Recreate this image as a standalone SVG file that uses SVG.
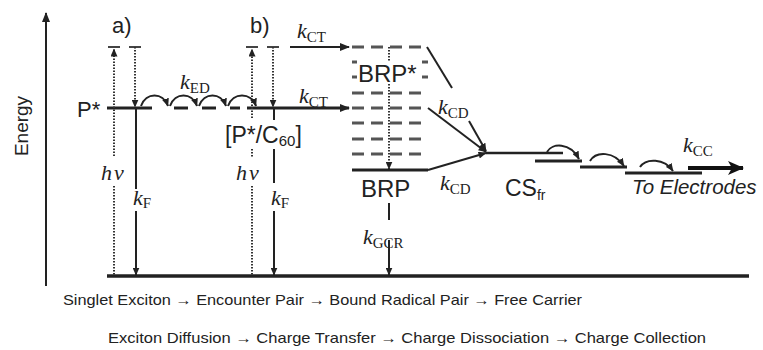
<svg xmlns="http://www.w3.org/2000/svg" width="763" height="350" viewBox="0 0 763 350">
<defs>
<marker id="ah" markerWidth="10" markerHeight="8" refX="9" refY="4" orient="auto" markerUnits="userSpaceOnUse"><path d="M0,0 L10,4 L0,8 Z" fill="#222"/></marker>
<marker id="as" markerWidth="8" markerHeight="7" refX="7.5" refY="3.5" orient="auto" markerUnits="userSpaceOnUse"><path d="M0,0 L8,3.5 L0,7 Z" fill="#222"/></marker>
<marker id="ab" markerWidth="16" markerHeight="14" refX="15" refY="7" orient="auto" markerUnits="userSpaceOnUse"><path d="M0,0 L16,7 L0,14 L4,7 Z" fill="#111"/></marker>
</defs>
<style>
.l{stroke:#222;stroke-width:2;fill:none}
.t{stroke:#222;stroke-width:3;fill:none}
.dot{stroke:#333;stroke-width:2;stroke-dasharray:1.5 1.5;fill:none}
.dsh{stroke:#555;stroke-width:3;fill:none;stroke-dasharray:12 7}
.cap{stroke:#444;stroke-width:2;fill:none}
.sans{font-family:"Liberation Sans",Arial,sans-serif;fill:#222}
.k{font-family:"Liberation Serif","Times New Roman",serif;font-style:italic;font-size:22px;fill:#222}
.sub{font-style:normal;font-size:15px}
.hv{font-family:"Liberation Serif","Times New Roman",serif;font-style:italic;font-size:22px;fill:#222;letter-spacing:2px}
</style>
<rect width="763" height="350" fill="#fff"/>

<g id="axis">
<line class="l" x1="46" y1="286" x2="46" y2="13" marker-end="url(#ah)"/>
<text class="sans" font-size="19" text-anchor="middle" transform="translate(28,126) rotate(-90)">Energy</text>
</g>

<g id="ground">
<line x1="107" y1="276" x2="749" y2="276" stroke="#222" stroke-width="3.5"/>
</g>

<g id="pstar">
<text class="sans" font-size="22" x="77" y="117">P*</text>
<line class="t" x1="107" y1="108" x2="152" y2="108"/>
<line class="t" x1="174" y1="108" x2="188" y2="108"/>
<line class="t" x1="202" y1="108" x2="216" y2="108"/>
<line class="t" x1="230" y1="108" x2="240" y2="108"/>
<line class="t" x1="247" y1="108" x2="349" y2="108" marker-end="url(#ah)"/>
</g>

<g id="a">
<text class="sans" font-size="22" x="112" y="33">a)</text>
<line class="cap" x1="108" y1="47" x2="120" y2="47"/>
<line class="cap" x1="129" y1="47" x2="141" y2="47"/>
<line class="dot" x1="114" y1="156" x2="114" y2="49" marker-end="url(#as)"/>
<line class="dot" x1="114" y1="186" x2="114" y2="276"/>
<line class="dot" x1="135" y1="47" x2="135" y2="107" marker-end="url(#as)"/>
<line class="l" x1="136" y1="108" x2="136" y2="189"/>
<line class="l" x1="136" y1="211" x2="136" y2="275" marker-end="url(#as)"/>
<text class="hv" x="101" y="180">hν</text>
<text class="k" x="133" y="205">k<tspan class="sub" dy="3">F</tspan></text>
</g>

<g id="b">
<text class="sans" font-size="22" x="250" y="33">b)</text>
<line class="cap" x1="246" y1="47" x2="258" y2="47"/>
<line class="cap" x1="267" y1="47" x2="279" y2="47"/>
<line class="dot" x1="252" y1="118" x2="252" y2="49" marker-end="url(#as)"/>
<line class="dot" x1="252" y1="149" x2="252" y2="158"/>
<line class="dot" x1="252" y1="186" x2="252" y2="276"/>
<line class="dot" x1="273" y1="47" x2="273" y2="107" marker-end="url(#as)"/>
<line class="l" x1="274" y1="108" x2="274" y2="120"/>
<line class="l" x1="274" y1="149" x2="274" y2="183"/>
<line class="l" x1="274" y1="211" x2="274" y2="275" marker-end="url(#as)"/>
<text class="sans" font-size="23" x="225" y="143">[P*/C<tspan font-size="15" dy="3">60</tspan><tspan dy="-3">]</tspan></text>
<text class="hv" x="236" y="180">hν</text>
<text class="k" x="271" y="205">k<tspan class="sub" dy="3">F</tspan></text>
</g>

<g id="brp-manifold">
<line class="dsh" x1="352" y1="47" x2="428" y2="47"/>
<line class="dsh" x1="352" y1="62" x2="357" y2="62"/>
<line class="dsh" x1="422" y1="62" x2="428" y2="62"/>
<line class="dsh" x1="352" y1="77" x2="357" y2="77"/>
<line class="dsh" x1="422" y1="77" x2="428" y2="77"/>
<line class="dsh" x1="352" y1="93" x2="428" y2="93"/>
<line class="dsh" x1="352" y1="108" x2="428" y2="108"/>
<line class="dsh" x1="352" y1="123" x2="428" y2="123"/>
<line class="dsh" x1="352" y1="139" x2="428" y2="139"/>
<line class="dsh" x1="352" y1="154" x2="428" y2="154"/>
<text class="sans" font-size="24" x="358" y="82">BRP*</text>
<line class="dot" x1="389" y1="47" x2="389" y2="62"/>
<line class="dot" x1="389" y1="84" x2="389" y2="169" marker-end="url(#as)"/>
</g>

<g id="brp">
<line class="t" x1="352" y1="170" x2="428" y2="170"/>
<text class="sans" font-size="24" x="361" y="197">BRP</text>
<line class="l" x1="389" y1="203" x2="389" y2="220"/>
<text class="k" x="363" y="244">k<tspan class="sub" dy="4">GCR</tspan></text>
<line class="l" x1="389" y1="240" x2="389" y2="275" marker-end="url(#as)"/>
</g>

<g id="csfr">
<line x1="486" y1="153" x2="563" y2="153" stroke="#222" stroke-width="2.5"/>
<line class="t" x1="535" y1="161" x2="582" y2="161"/>
<line class="t" x1="580" y1="167" x2="627" y2="167"/>
<line class="t" x1="625" y1="173" x2="702" y2="173"/>
<text class="sans" font-size="23" x="505" y="196">CS<tspan font-size="14" dy="4">fr</tspan></text>
<text class="sans" font-size="20.5" font-style="italic" x="632" y="194">To Electrodes</text>
<text class="k" x="683" y="152">k<tspan class="sub" dy="4">CC</tspan></text>
</g>

<g id="connectors">
<line class="l" x1="290" y1="47" x2="349" y2="47" marker-end="url(#ah)"/>
<text class="k" x="297" y="38">k<tspan class="sub" dy="4">CT</tspan></text>
<text class="k" x="299" y="103">k<tspan class="sub" dy="4">CT</tspan></text>
<path class="l" d="M141,106 C146,92 163,92 168,106" marker-end="url(#as)"/>
<path class="l" d="M170,106 C175,92 192,92 197,106" marker-end="url(#as)"/>
<path class="l" d="M199,106 C204,92 221,92 226,106" marker-end="url(#as)"/>
<path class="l" d="M228,106 C233,92 251,92 256,106" marker-end="url(#as)"/>
<text class="k" x="180" y="89">k<tspan class="sub" dy="4">ED</tspan></text>
<line class="l" x1="427" y1="47" x2="452" y2="88"/>
<line class="l" x1="469" y1="121" x2="486" y2="151" marker-end="url(#as)"/>
<line class="l" x1="428" y1="108" x2="486" y2="152" marker-end="url(#as)"/>
<line class="l" x1="428" y1="170" x2="486" y2="153" marker-end="url(#as)"/>
<text class="k" x="438" y="114">k<tspan class="sub" dy="4">CD</tspan></text>
<text class="k" x="440" y="190">k<tspan class="sub" dy="4">CD</tspan></text>
<path class="l" d="M547,152 C552,143 570,142 579,159" marker-end="url(#as)"/>
<path class="l" d="M590,161 C596,151 614,151 624,166" marker-end="url(#as)"/>
<path class="l" d="M640,167 C646,158 664,158 673,171" marker-end="url(#as)"/>
<line x1="688" y1="168" x2="743" y2="168" stroke="#111" stroke-width="4" marker-end="url(#ab)"/>
</g>

<g id="captions">
<text class="sans" font-size="15" x="63" y="305" textLength="519" lengthAdjust="spacingAndGlyphs">Singlet Exciton → Encounter Pair → Bound Radical Pair → Free Carrier</text>
<text class="sans" font-size="15" x="108" y="343" textLength="598" lengthAdjust="spacingAndGlyphs">Exciton Diffusion → Charge Transfer → Charge Dissociation → Charge Collection</text>
</g>
</svg>
